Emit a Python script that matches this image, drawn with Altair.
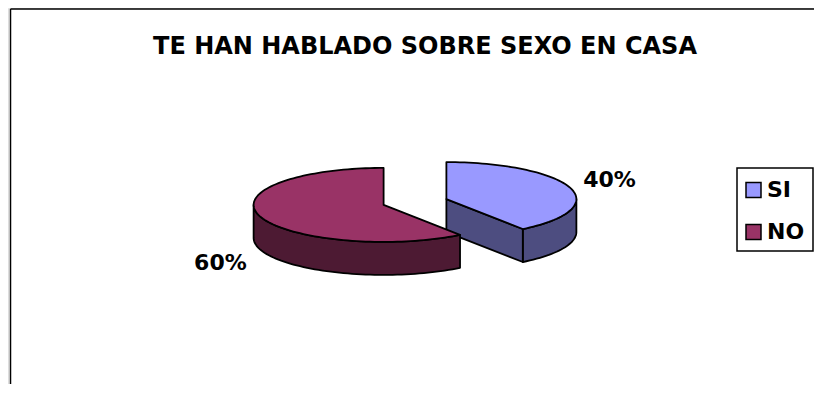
import altair as alt
import numpy as np
import pandas as pd

# ---------------- data ----------------
title = "TE HAN HABLADO SOBRE SEXO EN CASA"
categories = ["SI", "NO"]
values = [40, 60]
top_colors = ["#9999FF", "#993366"]
side_colors = ["#4D4D80", "#4D1A33"]

# ---------------- layout (page pixel coordinates) ----------------
W, H = 806, 376
X0, Y0 = 8, 8
CX, CY = 415, 202          # pie centre
A, B = 130, 37             # ellipse radii of the tilted pie
DEPTH = 33                 # thickness of the pie
EXPLODE = 33               # explosion distance
FONT = "DejaVu Sans"

xs = alt.Scale(domain=[X0, X0 + W], zero=False, nice=False)
ys = alt.Scale(domain=[Y0, Y0 + H], zero=False, nice=False, reverse=True)
X = lambda f: alt.X(f, type="quantitative", scale=xs, axis=None)
Y = lambda f: alt.Y(f, type="quantitative", scale=ys, axis=None)


def pt(cx, cy, th, dz=0.0):
    r = np.radians(th)
    return cx + A * np.sin(r), cy - B * np.cos(r) + dz


def arc(cx, cy, s, e, dz=0.0):
    n = max(2, int(abs(e - s) / 2) + 1)
    return [pt(cx, cy, t, dz) for t in np.linspace(s, e, n)]


total = float(sum(values))
bounds = np.concatenate([[0], np.cumsum(values)]) / total * 360.0

walls, tops, labels = [], [], []
pid = 0


def add(rows, pts, color):
    global pid
    for i, (x, y) in enumerate(pts):
        rows.append(dict(poly=pid, i=i, x=x, y=y, color=color))
    pid += 1


for k, cat in enumerate(categories):
    s, e = bounds[k], bounds[k + 1]
    mid = (s + e) / 2
    mr = np.radians(mid)
    cx = CX + EXPLODE * np.sin(mr)
    cy = CY - EXPLODE * np.cos(mr) * B / A
    # outer visible wall (front half: 90..270 deg)
    ws, we = max(s, 90), min(e, 270)
    if we > ws:
        add(walls, arc(cx, cy, ws, we) + arc(cx, cy, we, ws, DEPTH), side_colors[k])
    # radial walls facing the viewer
    if np.sin(np.radians(s)) < -1e-9:
        p = pt(cx, cy, s)
        add(walls, [(cx, cy), p, (p[0], p[1] + DEPTH), (cx, cy + DEPTH)], side_colors[k])
    if np.sin(np.radians(e)) > 1e-9:
        p = pt(cx, cy, e)
        add(walls, [(cx, cy), p, (p[0], p[1] + DEPTH), (cx, cy + DEPTH)], side_colors[k])
    # top face
    add(tops, [(cx, cy)] + arc(cx, cy, s, e), top_colors[k])
    # label
    c = np.cos(mr)
    lx = cx + 1.32 * A * np.sin(mr)
    ly = cy - 1.3 * B * c + (DEPTH + 10 if c < 0 else -4)
    labels.append(dict(x=lx, y=ly, text=f"{values[k]}%"))

walls_df = pd.DataFrame(walls)
tops_df = pd.DataFrame(tops)
labels_df = pd.DataFrame(labels)


def poly_layer(df):
    return alt.Chart(df).mark_line(
        stroke="black", strokeWidth=1.8, strokeJoin="round", interpolate="linear-closed"
    ).encode(
        x=X("x"), y=Y("y"),
        fill=alt.Fill("color:N", scale=None),
        detail="poly:N",
        order="i:Q",
    )


label_layer = alt.Chart(labels_df).mark_text(
    font=FONT, fontSize=22, fontWeight="bold", color="black", align="center", baseline="middle"
).encode(x=X("x"), y=Y("y"), text="text:N")

# title
title_layer = alt.Chart(pd.DataFrame({"x": [425], "y": [47], "t": [title]})).mark_text(
    font=FONT, fontSize=24, fontWeight="bold", color="black", align="center", baseline="middle"
).encode(x=X("x"), y=Y("y"), text="t:N")

# legend
LX0, LX1, LY0, LY1 = 737, 813, 168, 251
legend_box = alt.Chart(pd.DataFrame({"x": [LX0], "x2": [LX1], "y": [LY0], "y2": [LY1]})).mark_rect(
    fill="white", stroke="black", strokeWidth=1.5
).encode(x=X("x"), x2="x2", y=Y("y"), y2="y2")

leg = pd.DataFrame({
    "cat": categories,
    "color": top_colors,
    "row": list(range(len(categories))),
})
leg["sy"] = 190 + leg["row"] * 42
leg["sx"] = 746
leg["sx2"] = 761
leg["sy0"] = leg["sy"] - 7.5
leg["sy1"] = leg["sy"] + 7.5
leg["tx"] = 767

legend_sw = alt.Chart(leg).mark_rect(stroke="black", strokeWidth=1.5).encode(
    x=X("sx"), x2="sx2", y=Y("sy0"), y2="sy1", fill=alt.Fill("color:N", scale=None)
)
legend_tx = alt.Chart(leg).mark_text(
    font=FONT, fontSize=22, fontWeight="bold", color="black", align="left", baseline="middle"
).encode(x=X("tx"), y=Y("sy"), text="cat:N")

# outer frame (top and left edges visible)
frame_top = alt.Chart(pd.DataFrame({"a": [0]})).mark_rule(color="black", strokeWidth=1.5).encode(
    x=alt.value(2.5), x2=alt.value(W), y=alt.value(0.9)
)
frame_left = alt.Chart(pd.DataFrame({"a": [0]})).mark_rule(color="black", strokeWidth=1.5).encode(
    x=alt.value(2.5), y=alt.value(0.9), y2=alt.value(H)
)

chart = alt.layer(
    frame_top, frame_left,
    poly_layer(walls_df), poly_layer(tops_df),
    label_layer, title_layer,
    legend_box, legend_sw, legend_tx,
).properties(
    width=W, height=H,
    autosize=alt.AutoSizeParams(type="none"),
    padding=0,
).configure_view(stroke=None).configure(background="white")

chart.save("out.html", embed_options={"renderer": "svg", "actions": False})
